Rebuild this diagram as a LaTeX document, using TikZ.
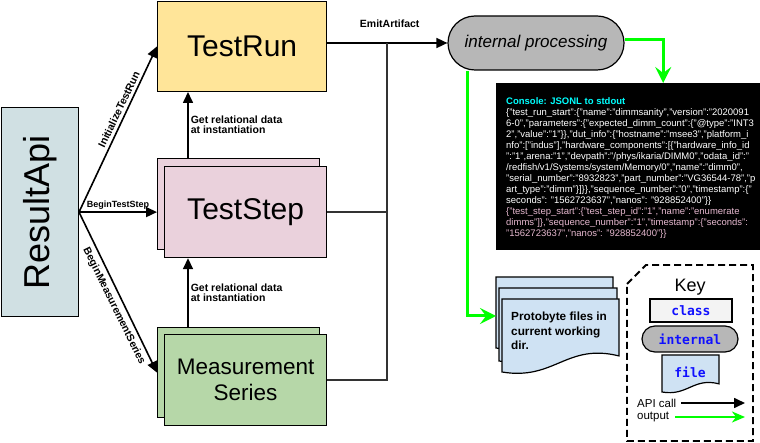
\documentclass[tikz,border=0pt]{standalone}
\usepackage{fontspec}
\setmainfont{Liberation Sans}
\setmonofont{DejaVu Sans Mono}
\usepackage{xcolor}
\usepackage{tikz}
\usetikzlibrary{arrows.meta}

\definecolor{apiBlue}{HTML}{D0E0E3}
\definecolor{runYellow}{HTML}{FFE599}
\definecolor{stepPink}{HTML}{EAD1DC}
\definecolor{measGreen}{HTML}{B6D7A8}
\definecolor{procGray}{HTML}{B7B7B7}
\definecolor{fileBlue}{HTML}{CFE2F3}
\definecolor{classGray}{HTML}{F3F3F3}
\definecolor{outGreen}{HTML}{00FF00}
\definecolor{keyBlue}{HTML}{1010FF}
\definecolor{jsonCyan}{HTML}{00FFFF}
\definecolor{jsonPink}{HTML}{E6B8CF}

% document shape with a wavy bottom: style, x, y, width, height
\newcommand{\docShape}[5]{%
  \draw[#1] (#2,#3) -- ({#2+#4},#3) -- ({#2+#4},{#3+0.78*#5})
    .. controls ({#2+0.55*#4},{#3+0.6*#5}) and ({#2+0.45*#4},{#3+1.12*#5}) .. (#2,{#3+#5}) -- cycle;}

\begin{document}
\begin{tikzpicture}[x=1pt,y=-1pt,
    box/.style={draw,line width=1.2pt,inner sep=0pt,anchor=north west},
    docStyle/.style={draw,line width=1.2pt,fill=fileBlue},
    apiCall/.style={-{Triangle[length=11pt,width=10pt]},line width=1.6pt},
    outArrow/.style={-{Stealth[length=16pt,width=16pt,inset=6pt]},draw=outGreen,line width=3pt},
    busLine/.style={draw=black!80,line width=1.6pt},
    callLabel/.style={font=\bfseries\fontsize{9}{10}\selectfont,inner sep=1.5pt},
    slopeLabel/.style={font=\bfseries\fontsize{10.5}{11}\selectfont},
    noteLabel/.style={font=\bfseries\fontsize{10.5}{10.5}\selectfont,align=left,inner sep=2pt},
    keyText/.style={font=\ttfamily\bfseries\fontsize{13}{15}\selectfont,text=keyBlue}]
  \useasboundingbox (0,0) rectangle (760,443);

  \node[box,fill=apiBlue,minimum width=77,minimum height=209] (api) at (0.8,107) {};
  \node[rotate=90,font=\fontsize{36}{40}\selectfont] (apiText) at (api.center) {ResultApi};

  \node[box,fill=runYellow,minimum width=169,minimum height=90,font=\fontsize{30}{34}\selectfont] (run) at (157,0.8) {TestRun};
  \node[box,fill=stepPink,minimum width=162,minimum height=91] (stepBack) at (157,158) {};
  \node[box,fill=stepPink,minimum width=162,minimum height=91,font=\fontsize{30}{34}\selectfont] (step) at (164,166) {TestStep};
  \node[box,fill=measGreen,minimum width=162,minimum height=90] (measBack) at (157,327) {};
  \node[box,fill=measGreen,minimum width=162,minimum height=91,align=center,font=\fontsize{22.5}{26}\selectfont] (meas) at (164,334) {Measurement\\Series};

  \node[draw,line width=1.2pt,fill=procGray,rounded corners=27pt,minimum width=176,minimum height=54,font=\itshape\fontsize{17}{20}\selectfont] (proc) at (536,43) {internal processing};

  \node[fill=black,inner sep=0pt,minimum width=264,minimum height=167,anchor=north west] (console) at (496,83) {};
  \node[anchor=north west,inner sep=0pt,align=left,text=white,font=\fontsize{9.5}{11}\selectfont] (consoleText) at (506,97.5) {%
    \textcolor{jsonCyan}{\bfseries Console: JSONL to stdout}\\
    \{"test\_run\_start":\{"name":"dimmsanity","version":"2020091\\
    6-0","parameters":\{"expected\_dimm\_count":\{"@type":"INT3\\
    2","value":"1"\}\},"dut\_info":\{"hostname":"msee3","platform\_i\\
    nfo":["indus"],"hardware\_components":[\{"hardware\_info\_id\\
    ":"1",arena:"1","devpath":"/phys/ikaria/DIMM0","odata\_id":"\\
    /redfish/v1/Systems/system/Memory/0","name":"dimm0",\\
    "serial\_number":"8932823","part\_number":"VG36544-78","p\\
    art\_type":"dimm"\}]\}\},"sequence\_number":"0","timestamp":\{"\\
    seconds": "1562723637","nanos": "928852400"\}\}\\
    \textcolor{jsonPink}{\{"test\_step\_start":\{"test\_step\_id":"1","name":"enumerate}\\
    \textcolor{jsonPink}{dimms"]\},"sequence\_number":"1","timestamp":\{"seconds":}\\
    \textcolor{jsonPink}{"1562723637","nanos": "928852400"\}\}}};

  \docShape{docStyle}{496}{277}{117}{71}
  \docShape{docStyle}{499}{288}{118}{73}
  \docShape{docStyle}{502}{299}{117}{73}
  \node[anchor=north west,inner sep=0pt,align=left,font=\bfseries\fontsize{11.8}{14.5}\selectfont] (files) at (511,312) {Protobyte files in\\current working\\dir.};
  \coordinate (filesIn) at (496,316);

  % key
  \draw[line width=1.8pt,dash pattern=on 7pt off 4pt] (627,284) -- (646,265) -- (753,265) -- (753,441) -- (627,441) -- cycle;
  \node[font=\fontsize{18}{20}\selectfont] (keyTitle) at (690,287) {Key};
  \node[draw,line width=1.2pt,fill=classGray,minimum width=82,minimum height=23,keyText] (keyClass) at (691,310.5) {class};
  \node[draw,line width=1.2pt,fill=procGray,rounded corners=13pt,minimum width=96,minimum height=26,keyText] (keyInternal) at (690,339) {internal};
  \docShape{docStyle}{662}{355}{57}{37}
  \node[keyText] (keyFile) at (690,372) {file};
  \node[anchor=west,inner sep=0pt,font=\fontsize{11.5}{13}\selectfont] (keyApi) at (637,403) {API call};
  \node[anchor=west,inner sep=0pt,font=\fontsize{11.5}{13}\selectfont] (keyOut) at (637,417) {output};
  \coordinate (keyApiEnd) at (745,403);
  \coordinate (keyOutEnd) at (745,417);
  \draw[apiCall] ([xshift=5pt]keyApi.east) -- (keyApiEnd);
  \draw[outArrow,line width=2pt,-{Stealth[length=13pt,width=11pt,inset=4pt]}] ([xshift=6pt]keyOut.east) -- (keyOutEnd);

  % api calls
  \draw[apiCall] (api.east) -- node[slopeLabel,rotate=64.5,anchor=south,inner sep=3pt,pos=0.6] {InitializeTestRun} (run.west);
  \draw[apiCall] (api.east) -- node[callLabel,above] {BeginTestStep} (api.east -| stepBack.west);
  \draw[apiCall] (api.east) -- node[slopeLabel,rotate=-63.8,anchor=north,inner sep=4pt,pos=0.56] {BeginMeasurementSeries} (measBack.west);

  \draw[apiCall] ([xshift=31pt]stepBack.north west) -- node[noteLabel,right] {Get relational data\\at instantiation} ([xshift=31pt]run.south west);
  \draw[apiCall] ([xshift=31pt]measBack.north west) -- node[noteLabel,right] {Get relational data\\at instantiation} ([xshift=24pt]step.south west);

  \coordinate (busTop) at (387,43);
  \draw[apiCall] (proc.west -| run.east) -- node[font=\bfseries\fontsize{10.5}{12}\selectfont,above=11pt,pos=0.52] {EmitArtifact} (proc.west);
  \draw[busLine] (step.east) -- (step.east -| busTop);
  \draw[busLine] (meas.east) -| (busTop);

  % outputs
  \coordinate (procDrop) at (467,316);
  \draw[outArrow] ([yshift=3pt]proc.east) -| ([xshift=35pt]console.north);
  \draw[outArrow] (proc.south -| procDrop) |- (filesIn);
\end{tikzpicture}
\end{document}
